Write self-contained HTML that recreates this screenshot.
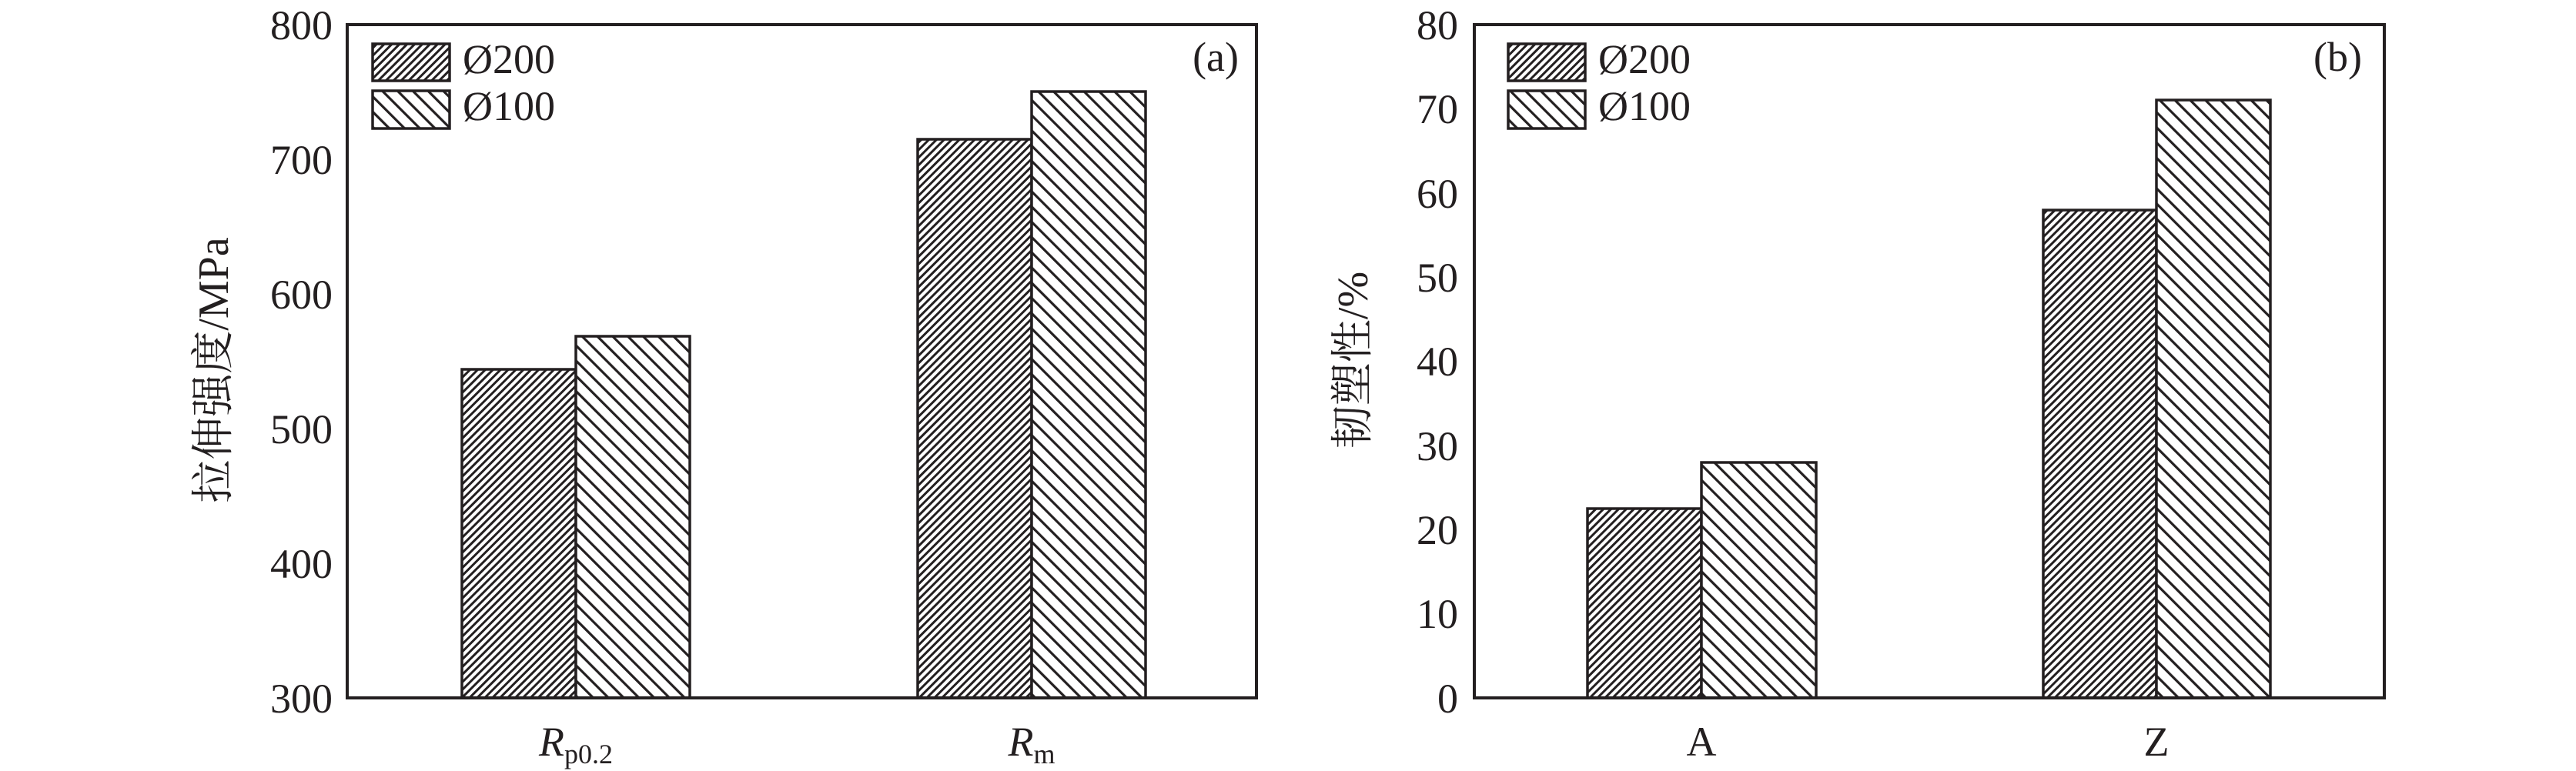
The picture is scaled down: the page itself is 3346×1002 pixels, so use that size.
<!DOCTYPE html>
<html><head><meta charset="utf-8"><style>
html,body{margin:0;padding:0;background:#fff;}
svg{display:block;}
text{font-family:"Liberation Serif","Noto Serif CJK SC","Noto Sans CJK SC",serif;fill:#231f20;}
</style></head><body>
<svg width="3346" height="1002" viewBox="0 0 3346 1002" xmlns="http://www.w3.org/2000/svg">
<defs>
<pattern id="p1" patternUnits="userSpaceOnUse" width="7" height="7" patternTransform="rotate(45)">
<rect width="7" height="7" fill="#fff"/><line x1="0" y1="0" x2="0" y2="7" stroke="#231f20" stroke-width="6"/>
</pattern>
<pattern id="p2" patternUnits="userSpaceOnUse" width="14" height="14" patternTransform="rotate(-45)">
<rect width="14" height="14" fill="#fff"/><line x1="0" y1="0" x2="0" y2="14" stroke="#231f20" stroke-width="6.4"/>
</pattern>
</defs>
<g stroke="#231f20" stroke-width="3.5">
<rect x="600" y="480" width="148" height="427" fill="url(#p1)"/>
<rect x="748" y="437" width="148" height="470" fill="url(#p2)"/>
<rect x="1192" y="181" width="148" height="726" fill="url(#p1)"/>
<rect x="1340" y="119" width="148" height="788" fill="url(#p2)"/>
<rect x="2062" y="661" width="148" height="246" fill="url(#p1)"/>
<rect x="2210" y="601" width="149" height="306" fill="url(#p2)"/>
<rect x="2654" y="273" width="147" height="634" fill="url(#p1)"/>
<rect x="2801" y="130" width="148" height="777" fill="url(#p2)"/>
<rect x="484" y="57" width="100" height="48" fill="url(#p1)"/>
<rect x="484" y="118" width="100" height="49" fill="url(#p2)"/>
<rect x="1959" y="57" width="100" height="48" fill="url(#p1)"/>
<rect x="1959" y="118" width="100" height="49" fill="url(#p2)"/>
<rect x="451" y="32" width="1181" height="875" fill="none" stroke-width="4"/>
<rect x="1915" y="32" width="1182" height="875" fill="none" stroke-width="4"/>
</g>
<g font-size="54" text-anchor="end">
<text x="432" y="51">800</text><text x="432" y="226">700</text><text x="432" y="401">600</text>
<text x="432" y="576">500</text><text x="432" y="751">400</text><text x="432" y="926">300</text>
<text x="1894" y="51">80</text><text x="1894" y="160">70</text><text x="1894" y="270">60</text>
<text x="1894" y="379">50</text><text x="1894" y="488">40</text><text x="1894" y="598">30</text>
<text x="1894" y="707">20</text><text x="1894" y="816">10</text><text x="1894" y="926">0</text>
<text x="1609" y="92">(a)</text><text x="3068" y="92">(b)</text>
</g>
<g font-size="54">
<text x="601" y="95">Ø200</text><text x="601" y="156">Ø100</text>
<text x="2076" y="95">Ø200</text><text x="2076" y="156">Ø100</text>
</g>
<text x="748" y="982" font-size="54" text-anchor="middle"><tspan font-style="italic">R</tspan><tspan font-size="36" dy="10">p0.2</tspan></text>
<text x="1340" y="982" font-size="54" text-anchor="middle"><tspan font-style="italic">R</tspan><tspan font-size="36" dy="10">m</tspan></text>
<text x="2210" y="982" font-size="54" text-anchor="middle">A</text>
<text x="2801" y="982" font-size="54" text-anchor="middle">Z</text>
<text transform="translate(296,481) rotate(-90)" font-size="56" text-anchor="middle">拉伸强度/MPa</text>
<text transform="translate(1776,468) rotate(-90)" font-size="56" text-anchor="middle">韧塑性/%</text>
</svg>
</body></html>
